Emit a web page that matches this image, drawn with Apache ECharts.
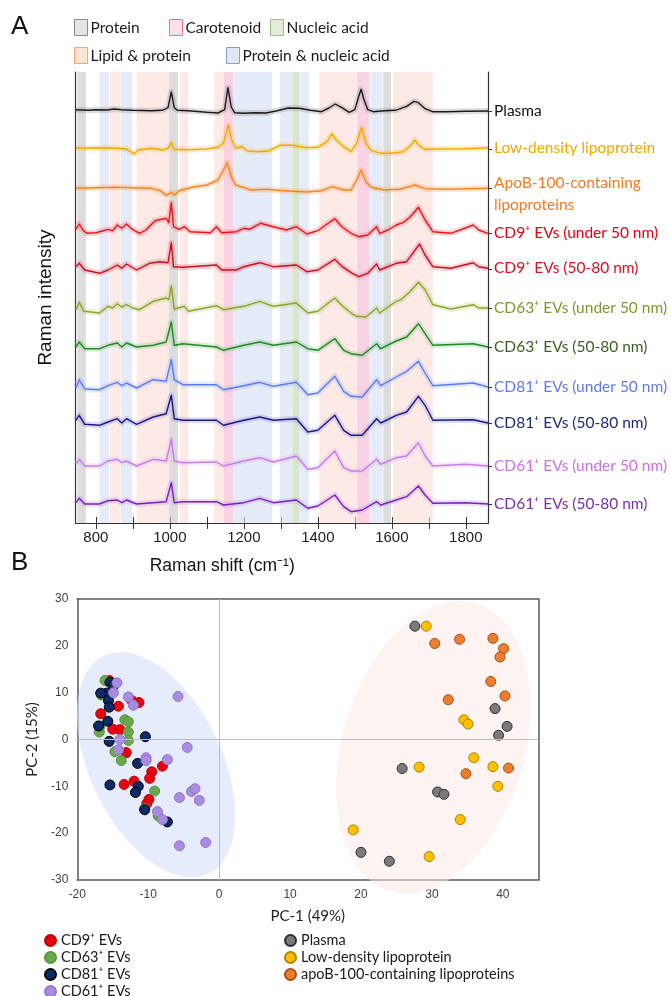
<!DOCTYPE html>
<html>
<head>
<meta charset="utf-8">
<script src="https://cdn.jsdelivr.net/npm/echarts@6/dist/echarts.min.js"></script>
<style>
  html, body { margin: 0; padding: 0; background: #fff; }
  #chart { width: 671px; height: 996px; }
</style>
</head>
<body>
<div id="chart"></div>
<script>
// ---------- Panel A: Raman spectra ----------
const shiftMin = 745;
const shiftMax = 1860;
const shiftTicks = [800, 900, 1000, 1100, 1200, 1300, 1400, 1500, 1600, 1700, 1800];
const shiftLabels = [800, 1000, 1200, 1400, 1600, 1800];

// Assignment bands [from, to] in cm-1
const bandProtein = [[750, 773], [998, 1022], [1577, 1598]];
const bandLipidProtein = [[838, 866], [910, 998], [1027, 1050], [1120, 1146], [1404, 1505], [1603, 1711]];
const bandCarotenoid = [[1146, 1171], [1506, 1540]];
const bandNucleic = [[1331, 1350]];
const bandProteinNucleic = [[810, 836], [868, 898], [1171, 1277], [1297, 1330], [1350, 1376], [1542, 1575]];

const spectrumLabels = [
  'Plasma', 'Low-density lipoprotein', 'ApoB-100-containing\nlipoproteins',
  'CD9⁺ EVs (under 50 nm)', 'CD9⁺ EVs (50-80 nm)',
  'CD63⁺ EVs (under 50 nm)', 'CD63⁺ EVs (50-80 nm)',
  'CD81⁺ EVs (under 50 nm)', 'CD81⁺ EVs (50-80 nm)',
  'CD61⁺ EVs (under 50 nm)', 'CD61⁺ EVs (50-80 nm)'
];
// vertical stacking offset of each spectrum (a.u.)
const spectrumOffsets = [412, 374, 335, 290, 254, 215, 176, 136, 100, 57, 19];

// mean spectra, [Raman shift, relative intensity]
const specPlasma = [[746,1.3],[780,0.7],[800,1.3],[830,1],[850,2],[870,1.3],[900,0.7],[950,0.3],[980,0.7],[995,3.3],[1004,19],[1012,3.3],[1020,0.7],[1050,0.3],[1100,-1.3],[1130,-2],[1148,1.3],[1157,23.3],[1166,4],[1175,-1.7],[1200,-2.3],[1230,-1.7],[1260,-2],[1290,0.3],[1320,3],[1350,2.7],[1380,0.7],[1410,-0.7],[1430,3],[1447,7],[1465,3.3],[1485,-1.3],[1500,1.3],[1510,14],[1517,21.7],[1524,12.3],[1535,1.3],[1550,-0.7],[1580,0.3],[1610,0.7],[1640,4.7],[1660,9.7],[1672,8.3],[1690,2.3],[1710,-0.7],[1750,-0.7],[1800,-0.3],[1860,0]];
const specLDL = [[746,0.7],[800,1.3],[850,1],[880,0],[895,-2.7],[903,-5],[915,-1],[950,0.7],[980,-1],[995,0.7],[1004,6.3],[1012,-0.3],[1050,-0.7],[1100,0],[1130,1.7],[1145,5.7],[1158,24],[1167,9.7],[1178,0.7],[1195,2.3],[1210,-2],[1240,-2.7],[1270,-1.7],[1297,3.7],[1330,3.7],[1370,1.3],[1400,1.7],[1425,7.3],[1438,15],[1450,9],[1470,2.3],[1490,-2.7],[1505,5.7],[1518,21.7],[1530,5.7],[1545,-1.7],[1570,-4.3],[1600,-4.3],[1630,-2.7],[1650,3],[1662,9],[1672,4],[1690,-0.3],[1720,0],[1800,0.3],[1860,1.3]];
const specApoB = [[746,-0.3],[800,0.3],[850,0.7],[900,0.3],[950,-0.3],[973,-2.7],[991,-7.3],[1004,-4.3],[1012,-7],[1025,-2.7],[1060,0.7],[1100,3],[1130,8],[1145,18],[1155,25.3],[1166,11.3],[1178,3],[1220,-2],[1260,-1.3],[1310,-2.7],[1370,-4],[1410,-2.7],[1440,1.3],[1470,-2],[1490,-2],[1505,8],[1517,18],[1530,6.3],[1545,0.7],[1580,-2],[1620,-1.3],[1662,3],[1690,-0.7],[1750,-1.3],[1860,-0.3]];
const specCD9Small = [[746,3.7],[755,9],[765,3],[775,-0.3],[800,0.3],[820,2.3],[833,3.7],[845,2.3],[858,8],[870,4.7],[883,9],[895,4.7],[918,-0.3],[935,3],[960,12.3],[990,14.7],[997,10.3],[1004,30.3],[1010,6.3],[1025,3.7],[1040,6.3],[1055,1.3],[1110,0.3],[1126,6.3],[1140,0.3],[1180,1.3],[1200,4.7],[1215,3.7],[1245,9.7],[1280,6.3],[1315,3],[1342,6.3],[1370,-1],[1400,2.3],[1425,9],[1446,14.3],[1465,6.3],[1490,-0.3],[1510,-3.7],[1535,-2],[1559,6.3],[1567,-0.3],[1590,3],[1612,8],[1630,10.3],[1650,16.3],[1672,25.7],[1690,13],[1711,1.3],[1760,-0.3],[1820,8],[1835,3],[1860,-0.3]];
const specCD9Large = [[746,2.3],[755,5.7],[770,-1],[810,-4.3],[833,-1],[858,4],[870,0.7],[883,5],[910,-1],[945,5.7],[973,7.3],[995,6.3],[1004,26.3],[1010,2.3],[1035,1.7],[1126,4],[1140,-1],[1180,-1],[1200,2.3],[1243,6.3],[1280,2.3],[1342,4],[1370,-2.7],[1400,-1],[1446,9.7],[1466,2.3],[1490,-3.7],[1510,-7.7],[1535,-4.3],[1559,5],[1567,-1],[1612,5.7],[1640,7.3],[1675,25],[1690,14],[1711,2.3],[1760,0.7],[1820,6.3],[1835,2.3],[1860,0.7]];
const specCD63Small = [[746,-1.7],[755,5.7],[768,-3.3],[810,-5],[833,1.7],[845,0],[858,4.3],[870,1],[883,3.3],[900,0],[918,-1.7],[955,6.7],[990,10],[997,8.3],[1004,21.7],[1012,-1],[1040,1.7],[1050,-3.3],[1126,2.3],[1145,-1.7],[1200,1.7],[1243,6.7],[1280,1.7],[1342,5],[1373,-5],[1400,-3.3],[1446,10],[1466,2.3],[1490,-5],[1504,-8.3],[1530,-9],[1559,0],[1567,-5],[1612,6.7],[1625,8.3],[1650,16.7],[1672,25.7],[1690,18.3],[1711,3.3],[1760,-1],[1820,3.3],[1835,0],[1860,0]];
const specCD63Large = [[746,0],[755,5],[770,-1.7],[810,-1.7],[833,1.7],[858,4],[870,0],[883,4],[910,0],[955,1.7],[990,5],[1004,25],[1012,1.7],[1035,3.3],[1126,0],[1145,-3.3],[1200,1.7],[1243,5],[1280,1.7],[1342,5],[1373,-1.7],[1400,-3.3],[1446,8.3],[1470,-3.3],[1490,-6.7],[1520,-8.3],[1559,3.3],[1570,-1.7],[1612,6],[1640,10],[1672,23.3],[1690,13.3],[1711,1.7],[1820,3.3],[1860,0]];
const specCD81Small = [[746,-1],[755,7.3],[770,-2],[810,-2.7],[833,1.3],[858,4.7],[870,1.3],[883,4],[910,-1],[955,7.3],[990,5.7],[1004,27.3],[1012,7.3],[1035,2.3],[1126,2.3],[1145,-2.7],[1200,1.3],[1243,4.7],[1280,0.7],[1342,4.7],[1373,-7.7],[1400,-6],[1446,10.7],[1470,-4.3],[1490,-9.3],[1520,-10],[1559,7.3],[1570,1.3],[1612,10],[1640,15.7],[1672,25.7],[1690,14],[1711,1.3],[1820,4],[1860,0]];
const specCD81Large = [[746,2.7],[755,7.7],[770,-1.3],[810,-2.3],[833,1],[858,4.3],[870,0],[883,4.3],[910,-1.3],[955,6],[990,9.3],[1004,27.7],[1012,4.3],[1035,2.7],[1126,2.7],[1145,-2.3],[1200,2.7],[1243,6],[1280,2.7],[1342,4.3],[1373,-9],[1400,-7.3],[1446,7.7],[1470,-7.3],[1490,-12.3],[1520,-12.3],[1559,4.3],[1570,0],[1612,7.7],[1640,11],[1672,26.7],[1690,17.7],[1711,2.7],[1820,3.3],[1860,0]];
const specCD61Small = [[746,1.7],[755,6.7],[770,0],[810,0],[833,5],[858,6.7],[870,3.3],[883,5],[910,0],[955,6.7],[990,5],[1004,26.7],[1012,5],[1035,3.3],[1126,4],[1145,0],[1200,5],[1243,8.3],[1280,4],[1342,10],[1373,-3.3],[1400,-1.7],[1446,15],[1470,-1.7],[1490,-5],[1520,-5],[1559,6.7],[1570,1.7],[1612,8.3],[1640,10],[1672,23.3],[1690,10],[1711,0],[1800,1.7],[1860,0]];
const specCD61Large = [[746,1.3],[755,5.7],[770,0],[810,0],[833,3.3],[858,4],[870,1.3],[883,4],[910,0],[955,1.3],[990,2.3],[1004,21.3],[1012,1.3],[1035,2.3],[1126,2.3],[1145,-1],[1200,1.3],[1243,5.7],[1280,1.3],[1342,4],[1373,-4.3],[1400,-2],[1446,9],[1470,-2.7],[1490,-7.7],[1520,-6],[1559,2.3],[1570,-1],[1612,4],[1640,7.3],[1672,18],[1690,9],[1711,0.7],[1800,1.3],[1860,0]];

const spectra = [specPlasma, specLDL, specApoB, specCD9Small, specCD9Large, specCD63Small,
  specCD63Large, specCD81Small, specCD81Large, specCD61Small, specCD61Large];

const lineColors = ['#1a1a1a', '#f3a800', '#f5861f', '#e8141c', '#c8101e', '#88a62a', '#1d8a22',
  '#5b7cf0', '#17188c', '#c77de8', '#7a1dc4'];
const haloColors = ['#8a8a8a', '#f5c23a', '#f8a050', '#f06068', '#e06070', '#b3c870', '#7fc080',
  '#9fb0f5', '#8a8ac8', '#dcb0f0', '#b890e0'];
const labelColors = ['#111111', '#f5a800', '#f37b20', '#e60012', '#dc1020', '#7b9a28', '#3b5e22',
  '#5f7be8', '#1c2b78', '#cf6ee6', '#7a2fa8'];

// ---------- Panel B: PCA scores ----------
const pcCD9 = [[-11.3,7.9],[-14.2,7.1],[-16.7,5.5],[-15.0,2.2],[-14.0,2.1],[-13.1,-2.8],[-9.5,-6.9],[-9.8,-8.3],[-8.0,-5.7],[-13.4,-9.6],[-12.0,-8.9],[-9.9,-12.8],[-10.2,-13.7],[-15.5,12.6],[-12.3,8.3]];
const pcCD63 = [[-16.1,12.6],[-16.6,9.5],[-13.3,4.2],[-12.8,3.8],[-12.8,1.6],[-12.8,-0.2],[-16.9,1.6],[-14.7,-2.6],[-13.8,-4.5],[-9.1,-11.0],[-8.6,-16.3],[-16.8,2.8],[-10.5,-14.8]];
const pcCD81 = [[-15.4,12.2],[-15.9,9.9],[-16.7,9.9],[-15.6,8.3],[-15.5,6.9],[-15.7,3.9],[-17.0,2.9],[-15.5,-0.4],[-10.4,0.6],[-11.5,-5.1],[-15.4,-9.7],[-11.4,-10.0],[-11.8,-11.3],[-10.5,-15.0],[-7.3,-17.6],[-14.9,11.5]];
const pcCD61 = [[-14.4,12.1],[-14.9,10.0],[-12.8,9.1],[-12.1,7.3],[-5.8,9.2],[-14.0,0.0],[-14.2,-2.2],[-10.3,-3.9],[-10.3,-4.5],[-7.3,-4.3],[-4.5,-1.7],[-3.9,-11.1],[-3.4,-10.5],[-5.6,-12.4],[-2.8,-13.0],[-8.7,-15.4],[-8.0,-17.1],[-5.6,-22.7],[-1.9,-22.0]];
const pcPlasma = [[27.6,24.2],[25.8,-6.2],[30.8,-11.2],[31.7,-11.7],[38.9,6.6],[40.6,2.8],[39.4,0.9],[20.0,-24.1],[24.0,-26.0]];
const pcLDL = [[29.2,24.2],[18.9,-19.3],[28.2,-5.9],[34.5,4.2],[35.1,3.3],[35.9,-3.9],[38.6,-5.8],[39.3,-10.0],[34.0,-17.1],[29.6,-25.0]];
const pcApoB = [[30.4,20.5],[33.9,21.4],[38.6,21.6],[40.1,19.4],[39.6,17.6],[38.3,12.4],[32.3,8.5],[40.3,9.3],[40.8,-6.1],[34.8,-7.3]];
// group ellipses: centre PC-1, centre PC-2, half-width (PC-1 units), half-height (PC-2 units), tilt (deg)
const pcEllipses = [[-8.9, -5.4, 9.3, 25.8, 25.6], [30.2, -1.7, 12.8, 32.1, -16.5]];

const scatterNames = ['CD9⁺ EVs', 'CD63⁺ EVs', 'CD81⁺ EVs', 'CD61⁺ EVs', 'Plasma', 'Low-density lipoprotein', 'apoB-100-containing lipoproteins'];
const scatterData = [pcCD9, pcCD63, pcCD81, pcCD61, pcPlasma, pcLDL, pcApoB];
const scatterFill = ['#e30613', '#6aa84f', '#0d2a6b', '#a98be0', '#7a7a7a', '#ffc000', '#ed7d31'];
const scatterStroke = ['#c00000', '#5a9440', '#000000', '#9378cc', '#303030', '#b08000', '#a84e15'];
const ellipseFill = ['rgba(214,224,248,0.62)', 'rgba(252,232,228,0.5)'];

const FONT = 'Lato, "Open Sans", sans-serif';
const ARIAL = '"Liberation Sans", Arial, sans-serif';

const chart = echarts.init(document.getElementById('chart'), null, { renderer: 'canvas' });

const series = [];

// assignment bands as mark areas on legend-bearing helper series
const bandDefs = [
  ['Protein', bandProtein, 'rgba(200,200,200,0.62)'],
  ['Lipid & protein', bandLipidProtein, 'rgba(252,215,210,0.55)'],
  ['Carotenoid', bandCarotenoid, 'rgba(246,180,210,0.6)'],
  ['Nucleic acid', bandNucleic, 'rgba(200,220,185,0.7)'],
  ['Protein & nucleic acid', bandProteinNucleic, 'rgba(214,222,244,0.62)']
];
bandDefs.forEach(function (d) {
  series.push({
    name: d[0], type: 'line', xAxisIndex: 0, yAxisIndex: 0, data: [], silent: true,
    color: d[2], z: 1,
    markArea: {
      silent: true,
      itemStyle: { color: d[2] },
      data: d[1].map(function (b) { return [{ xAxis: b[0] }, { xAxis: b[1] }]; })
    }
  });
});

spectra.forEach(function (spec, i) {
  const pts = spec.map(function (p) { return [p[0], p[1] + spectrumOffsets[i]]; });
  series.push({
    type: 'line', xAxisIndex: 0, yAxisIndex: 0, data: pts, symbol: 'none', silent: true, z: 2,
    lineStyle: { color: haloColors[i], width: 6, opacity: 0.28, join: 'round' }
  });
  series.push({
    type: 'line', xAxisIndex: 0, yAxisIndex: 0, data: pts, symbol: 'none', silent: true, z: 3,
    lineStyle: { color: lineColors[i], width: 1.4, join: 'round' },
    endLabel: {
      show: true, formatter: spectrumLabels[i], color: labelColors[i],
      fontFamily: FONT, fontSize: 15.5, distance: 6, lineHeight: 22,
      offset: i === 2 ? [0, 6] : [0, 0]
    }
  });
});

// PCA group ellipses
series.push({
  type: 'custom', xAxisIndex: 2, yAxisIndex: 2, data: pcEllipses, silent: true, z: 1,
  renderItem: function (params, api) {
    const c = api.coord([api.value(0), api.value(1)]);
    const rx = api.size([api.value(2), 0])[0];
    const ry = api.size([0, api.value(3)])[1];
    const phi = api.value(4) * Math.PI / 180;
    const cs = Math.cos(phi), sn = Math.sin(phi);
    const pts = [];
    for (let k = 0; k < 120; k++) {
      const t = k / 120 * 2 * Math.PI;
      const u = rx * Math.cos(t), v = ry * Math.sin(t);
      pts.push([c[0] + u * cs + v * sn, c[1] - u * sn + v * cs]);
    }
    return { type: 'polygon', shape: { points: pts }, style: { fill: ellipseFill[params.dataIndex] } };
  },
  markLine: {
    silent: true, symbol: 'none', label: { show: false },
    lineStyle: { color: '#bdbdbd', width: 1, type: 'solid' },
    data: [{ xAxis: 0 }, { yAxis: 0 }]
  }
});

scatterData.forEach(function (d, i) {
  series.push({
    name: scatterNames[i], type: 'scatter', xAxisIndex: 2, yAxisIndex: 2, data: d, z: 3,
    symbolSize: 10,
    itemStyle: { color: scatterFill[i], borderColor: scatterStroke[i], borderWidth: 1, opacity: 1 }
  });
});

function bandLegend(name, fill, stroke, left, top) {
  return {
    data: [{ name: name, itemStyle: { color: fill, borderColor: stroke, borderWidth: 1 } }],
    left: left, top: top, padding: 0, icon: 'rect', itemWidth: 13, itemHeight: 16,
    selectedMode: false,
    textStyle: { fontFamily: FONT, fontSize: 15.5, color: '#1a1a1a', padding: [0, 0, 0, -2] }
  };
}

function scatterLegend(names, left) {
  return {
    data: names, orient: 'vertical', left: left, top: 932, height: 100, padding: 0,
    icon: 'circle', itemWidth: 11, itemHeight: 11, itemGap: 0, selectedMode: false,
    textStyle: { fontFamily: FONT, fontSize: 14.5, lineHeight: 17, color: '#1a1a1a' }
  };
}

const plainNumber = function (v) { return String(v); };

const option = {
  animation: false,
  backgroundColor: '#ffffff',
  grid: [
    { left: 75.5, top: 72, width: 412.5, height: 451 },
    { left: 77.3, top: 599, width: 461, height: 281 }
  ],
  legend: [
    bandLegend('Protein', '#e4e4e4', '#8c8c8c', 74, 19),
    bandLegend('Carotenoid', '#fde0ea', '#e8708f', 169, 19),
    bandLegend('Nucleic acid', '#e3ecd9', '#9cc08b', 270, 19),
    bandLegend('Lipid & protein', '#fde3d2', '#f4a477', 74, 47),
    bandLegend('Protein & nucleic acid', '#e2e7f6', '#8c9ccc', 226, 47),
    scatterLegend(scatterNames.slice(0, 4), 44),
    scatterLegend(scatterNames.slice(4), 284)
  ],
  xAxis: [
    {
      gridIndex: 0, type: 'value', min: shiftMin, max: shiftMax,
      name: 'Raman shift (cm⁻¹)', nameLocation: 'middle', nameGap: 34,
      nameTextStyle: { fontFamily: ARIAL, fontSize: 17.5, color: '#111', padding: [0, 119, 0, 0] },
      axisLine: { show: true, lineStyle: { color: '#333', width: 1.2 } },
      axisTick: { show: true, inside: true, length: 6, customValues: shiftTicks, lineStyle: { color: '#333' } },
      axisLabel: { customValues: shiftLabels, formatter: plainNumber, fontFamily: ARIAL, fontSize: 15, color: '#222', margin: 7 },
      splitLine: { show: false }
    },
    {
      gridIndex: 0, type: 'value', position: 'top', min: shiftMin, max: shiftMax,
      axisLine: { show: true, lineStyle: { color: '#333', width: 1.2 } },
      axisTick: { show: true, inside: true, length: 6, customValues: shiftTicks, lineStyle: { color: '#333' } },
      axisLabel: { show: false }, splitLine: { show: false }
    },
    {
      gridIndex: 1, type: 'value', min: -20, max: 45, interval: 10,
      name: 'PC-1 (49%)', nameLocation: 'middle', nameGap: 29,
      nameTextStyle: { fontFamily: FONT, fontSize: 15, color: '#222' },
      axisLine: { onZero: false, lineStyle: { color: '#595959', width: 1.5 } },
      axisTick: { show: false },
      axisLabel: { formatter: plainNumber, fontFamily: ARIAL, fontSize: 12, color: '#404040', margin: 9, showMaxLabel: false },
      splitLine: { show: false }
    },
    {
      gridIndex: 1, type: 'value', position: 'top', min: -20, max: 45,
      axisLine: { onZero: false, lineStyle: { color: '#595959', width: 1.5 } },
      axisTick: { show: false }, axisLabel: { show: false }, splitLine: { show: false }
    }
  ],
  yAxis: [
    {
      gridIndex: 0, type: 'value', min: 0, max: 451,
      name: 'Raman intensity', nameLocation: 'middle', nameGap: 20, nameRotate: 90,
      nameTextStyle: { fontFamily: ARIAL, fontSize: 19, color: '#111' },
      axisLine: { show: true, lineStyle: { color: '#333', width: 1.2 } },
      axisTick: { show: false }, axisLabel: { show: false }, splitLine: { show: false }
    },
    {
      gridIndex: 0, type: 'value', position: 'right', min: 0, max: 451,
      axisLine: { show: true, lineStyle: { color: '#333', width: 1.2 } },
      axisTick: { show: true, inside: false, length: 4, customValues: spectrumOffsets, lineStyle: { color: '#333' } },
      axisLabel: { show: false }, splitLine: { show: false }
    },
    {
      gridIndex: 1, type: 'value', min: -30, max: 30, interval: 10,
      name: 'PC-2 (15%)', nameLocation: 'middle', nameGap: 38, nameRotate: 90,
      nameTextStyle: { fontFamily: FONT, fontSize: 15, color: '#222' },
      axisLine: { onZero: false, lineStyle: { color: '#595959', width: 1.5 } },
      axisTick: { show: false },
      axisLabel: { formatter: plainNumber, fontFamily: ARIAL, fontSize: 12, color: '#404040', margin: 9 },
      splitLine: { show: false }
    },
    {
      gridIndex: 1, type: 'value', position: 'right', min: -30, max: 30,
      axisLine: { onZero: false, lineStyle: { color: '#595959', width: 1.5 } },
      axisTick: { show: false }, axisLabel: { show: false }, splitLine: { show: false }
    }
  ],
  graphic: [
    { type: 'text', left: 11, top: 14, style: { text: 'A', font: '26px "Liberation Sans", Arial, sans-serif', fill: '#111' } },
    { type: 'text', left: 11, top: 550, style: { text: 'B', font: '26px "Liberation Sans", Arial, sans-serif', fill: '#111' } }
  ],
  series: series
};

chart.setOption(option);
</script>
</body>
</html>
